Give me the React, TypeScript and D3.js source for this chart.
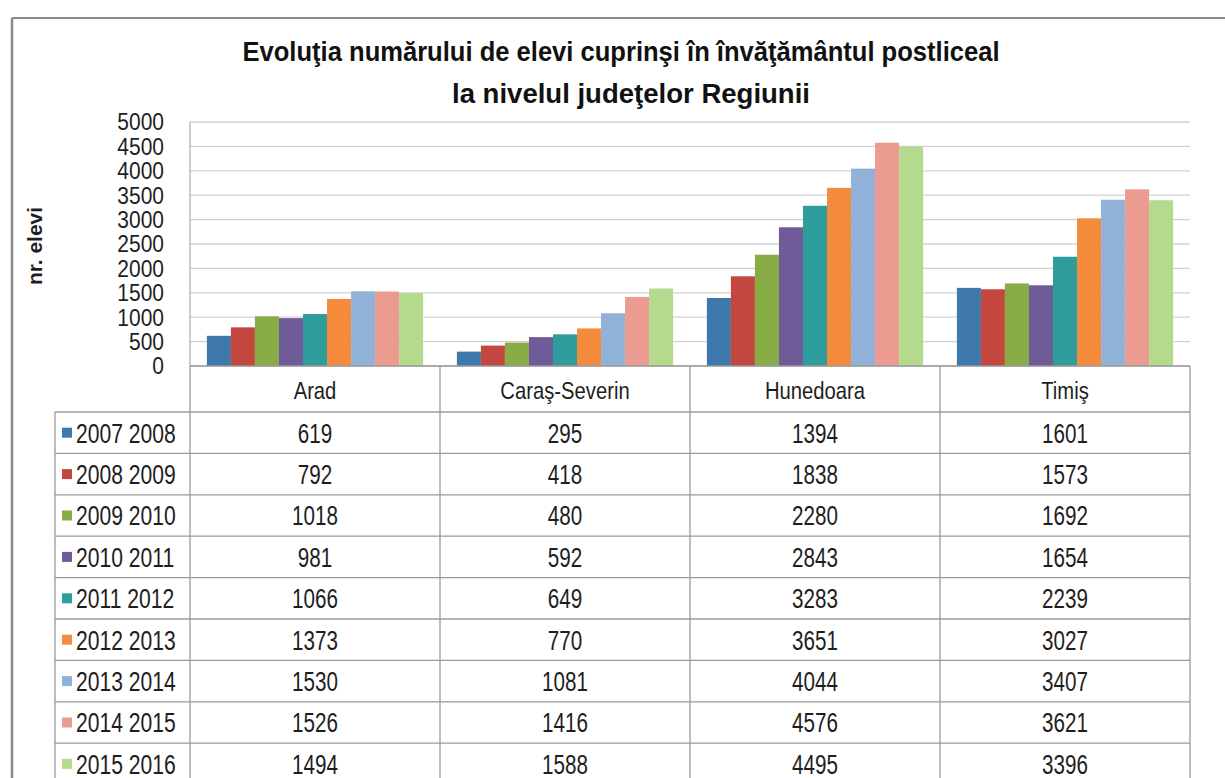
import * as d3 from 'd3';

const categories = ['Arad', 'Caraş-Severin', 'Hunedoara', 'Timiş'];
const seriesLabels = [
  '2007 2008',
  '2008 2009',
  '2009 2010',
  '2010 2011',
  '2011 2012',
  '2012 2013',
  '2013 2014',
  '2014 2015',
  '2015 2016',
];
// one array per school year, in category order
const v2007 = [619, 295, 1394, 1601];
const v2008 = [792, 418, 1838, 1573];
const v2009 = [1018, 480, 2280, 1692];
const v2010 = [981, 592, 2843, 1654];
const v2011 = [1066, 649, 3283, 2239];
const v2012 = [1373, 770, 3651, 3027];
const v2013 = [1530, 1081, 4044, 3407];
const v2014 = [1526, 1416, 4576, 3621];
const v2015 = [1494, 1588, 4495, 3396];
const seriesValues = [v2007, v2008, v2009, v2010, v2011, v2012, v2013, v2014, v2015];
const colors = [
  '#3f78aa',
  '#c4473f',
  '#88ad47',
  '#6f5b98',
  '#2f9d9b',
  '#f58c3d',
  '#91b2d8',
  '#ec9b90',
  '#b4da8d',
];
const yTicks = [0, 500, 1000, 1500, 2000, 2500, 3000, 3500, 4000, 4500, 5000];
const titleLines = [
  'Evoluţia numărului de elevi cuprinşi în învăţământul postliceal',
  'la nivelul judeţelor Regiunii',
];

const W = 1225;
const H = 778;
const FONT = '"Liberation Sans", Arial, sans-serif';

// narrow-looking text: the scan uses Arial Narrow, so squeeze Liberation Sans
function Narrow({ x, y, anchor = 'start', size, sx = 0.86, sy = 1.12, weight = 'normal', children }: any) {
  return (
    <text
      transform={`translate(${x},${y}) scale(${sx},${sy})`}
      dy="0.36em"
      textAnchor={anchor}
      fontFamily={FONT}
      fontSize={size}
      fontWeight={weight}
      fill="#1e1e1e"
    >
      {children}
    </text>
  );
}

export default function App() {
  const plot = { left: 190, right: 1190, top: 122, bottom: 366 };
  const legendLeft = 55;
  const headerBottom = 412;
  const rowH = 41.4;

  const y = d3.scaleLinear().domain([0, 5000]).range([plot.bottom, plot.top]);
  const x0 = d3
    .scaleBand()
    .domain(categories)
    .range([plot.left, plot.right])
    .paddingInner(0.135)
    .paddingOuter(0.0675);
  const x1 = d3.scaleBand().domain(seriesLabels).range([0, x0.bandwidth()]);
  const cols = d3.scaleBand().domain(categories).range([plot.left, plot.right]);
  const rows = d3
    .scaleBand()
    .domain(seriesLabels)
    .range([headerBottom, headerBottom + rowH * seriesLabels.length]);

  const gridColor = '#d2d2d2';
  const tableColor = '#9a9a9a';
  const tableBottom = H + 10;

  return (
    <svg
      width={W}
      height={H}
      viewBox={`0 0 ${W} ${H}`}
      style={{ position: 'absolute', left: 0, top: 0, background: '#fff' }}
    >
      <rect x={0} y={0} width={W} height={H} fill="#fff" />
      {/* outer frame */}
      <line x1={12} x2={W} y1={18} y2={18} stroke="#8a8a8a" strokeWidth={2} />
      <line x1={12} x2={12} y1={18} y2={H} stroke="#8a8a8a" strokeWidth={2.5} />

      {/* title */}
      <text
        x={621}
        y={61}
        textAnchor="middle"
        fontFamily={FONT}
        fontWeight="bold"
        fontSize={27}
        textLength={757}
        lengthAdjust="spacingAndGlyphs"
        fill="#111"
      >
        {titleLines[0]}
      </text>
      <text
        x={631}
        y={103}
        textAnchor="middle"
        fontFamily={FONT}
        fontWeight="bold"
        fontSize={27}
        textLength={358}
        lengthAdjust="spacingAndGlyphs"
        fill="#111"
      >
        {titleLines[1]}
      </text>

      {/* y axis title */}
      <text
        transform="translate(42,246) rotate(-90)"
        textAnchor="middle"
        fontFamily={FONT}
        fontWeight="bold"
        fontSize={21}
        fill="#1e1e1e"
      >
        nr. elevi
      </text>

      {/* gridlines */}
      {yTicks.map((t) => (
        <line
          key={'g' + t}
          x1={plot.left}
          x2={plot.right}
          y1={y(t)}
          y2={y(t)}
          stroke={gridColor}
          strokeWidth={1.3}
        />
      ))}
      <line x1={plot.left} x2={plot.left} y1={plot.top} y2={plot.bottom} stroke={tableColor} />

      {/* y tick labels */}
      {yTicks.map((t) => (
        <Narrow key={'t' + t} x={164} y={y(t)} anchor="end" size={21} sx={1} sy={1.1}>
          {t}
        </Narrow>
      ))}

      {/* bars */}
      {categories.map((c, ci) => (
        <g key={c} transform={`translate(${x0(c)},0)`}>
          {seriesLabels.map((s, si) => (
            <rect
              key={s}
              x={x1(s)}
              y={y(seriesValues[si][ci])}
              width={x1.bandwidth()}
              height={y(0) - y(seriesValues[si][ci])}
              fill={colors[si]}
            />
          ))}
        </g>
      ))}

      {/* data table */}
      <g fill="none" stroke={tableColor} strokeWidth={1.3}>
        <line x1={plot.left} x2={plot.right} y1={plot.bottom} y2={plot.bottom} />
        {rows.domain().map((s) => (
          <line key={'r' + s} x1={legendLeft} x2={plot.right} y1={rows(s)} y2={rows(s)} />
        ))}
        <line x1={legendLeft} x2={legendLeft} y1={headerBottom} y2={tableBottom} />
        {categories.map((c) => (
          <line key={'c' + c} x1={cols(c)} x2={cols(c)} y1={plot.bottom} y2={tableBottom} />
        ))}
        <line x1={plot.right} x2={plot.right} y1={plot.bottom} y2={tableBottom} />
      </g>

      {categories.map((c) => (
        <Narrow
          key={'h' + c}
          x={cols(c) + cols.bandwidth() / 2}
          y={(plot.bottom + headerBottom) / 2 + 1}
          anchor="middle"
          size={22}
          sx={0.92}
          sy={1.1}
        >
          {c}
        </Narrow>
      ))}

      {seriesLabels.map((s, si) => (
        <g key={'row' + s}>
          <rect
            x={62}
            y={rows(s) + rows.bandwidth() / 2 - 5}
            width={10}
            height={10}
            fill={colors[si]}
          />
          <Narrow x={76} y={rows(s) + rows.bandwidth() / 2} size={24} sx={0.88} sy={1.15}>
            {s}
          </Narrow>
          {categories.map((c, ci) => (
            <Narrow
              key={c}
              x={cols(c) + cols.bandwidth() / 2}
              y={rows(s) + rows.bandwidth() / 2}
              anchor="middle"
              size={24}
              sx={0.86}
              sy={1.15}
            >
              {seriesValues[si][ci]}
            </Narrow>
          ))}
        </g>
      ))}
    </svg>
  );
}
